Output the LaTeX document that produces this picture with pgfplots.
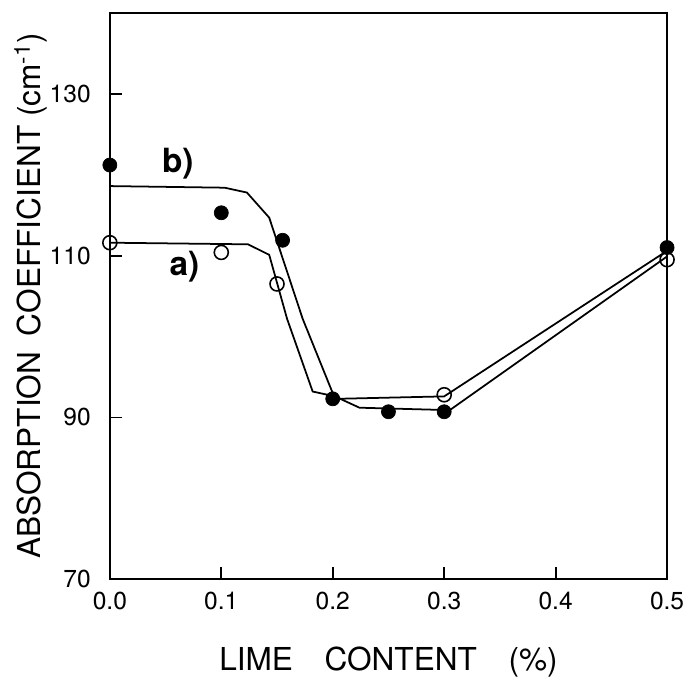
\documentclass[border=0pt]{standalone}
\usepackage{pgfplots}
\pgfplotsset{compat=1.18}
\usepackage{fontspec}
\setmainfont{TeX Gyre Heros}
\setsansfont{TeX Gyre Heros}

\pgfplotstableread{
x y
0.0 121.2
0.1 115.3
0.155 111.9
0.2 92.3
0.25 90.7
0.3 90.7
0.5 111.0
}\filledpts

\pgfplotstableread{
x y
0.0 111.6
0.1 110.4
0.15 106.5
0.3 92.8
0.5 109.5
}\openpts

\pgfplotstableread{
x y
0.0 111.6
0.124 111.4
0.143 110.1
0.159 102.2
0.182 93.2
0.202 92.6
0.224 91.2
0.305 90.9
0.5 109.9
}\curvea

\pgfplotstableread{
x y
0.0 118.6
0.103 118.4
0.123 117.8
0.143 114.7
0.173 102.2
0.2 93.0
0.204 92.3
0.3 92.6
0.5 110.6
}\curveb

\begin{document}
\begin{tikzpicture}
\begin{axis}[
  width=11.16cm, height=11.34cm,
  scale only axis,
  xmin=0, xmax=0.5, ymin=70, ymax=140,
  xtick={0,0.1,...,0.5},
  ytick={70,90,110,130},
  xticklabel style={yshift=-0.14cm,
    /pgf/number format/fixed,
    /pgf/number format/fixed zerofill,
    /pgf/number format/precision=1},
  /pgf/number format/assume math mode=true,
  tick label style={font=\fontsize{14}{16}\selectfont},
  yticklabel style={xshift=-0.26cm},
  tick align=inside,
  major tick length=0.24cm,
  xtick pos=bottom, ytick pos=left,
  axis line style={line width=1pt},
  tick style={line width=1pt, black},
  xlabel={LIME\quad CONTENT\quad (\%)},
  ylabel={ABSORPTION\enspace COEFFICIENT (cm\textsuperscript{-1})},
  label style={font=\fontsize{18}{20}\selectfont},
  xlabel style={yshift=-0.5cm},
  ylabel style={yshift=-0.2cm},
  clip=false,
]
\addplot[black, line width=1pt] table {\curvea};
\addplot[black, line width=1pt] table {\curveb};
\addplot[only marks, mark=*, mark size=4pt, mark options={fill=black, draw=black}] table {\filledpts};
\addplot[only marks, mark=o, mark size=4pt, mark options={draw=black, fill=white, line width=0.9pt}] table {\openpts};
\node[font=\bfseries\fontsize{19}{20}\selectfont] at (axis cs:0.061,121.4) {b)};
\node[font=\bfseries\fontsize{19}{20}\selectfont] at (axis cs:0.067,108.6) {a)};
\path (rel axis cs:0,1) ++(-2.2cm,0.26cm);
\end{axis}
\end{tikzpicture}
\end{document}
